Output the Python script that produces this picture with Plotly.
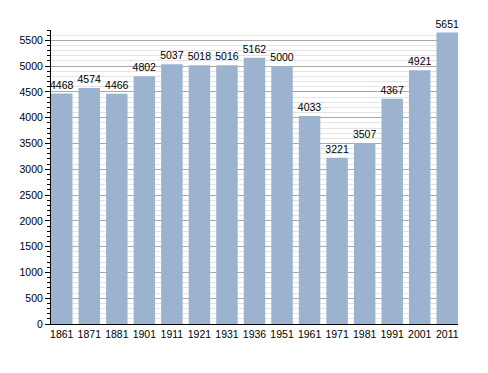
import plotly.graph_objects as go

years = ["1861", "1871", "1881", "1901", "1911", "1921", "1931", "1936", "1951", "1961", "1971", "1981", "1991", "2001", "2011"]
population = [4468, 4574, 4466, 4802, 5037, 5018, 5016, 5162, 5000, 4033, 3221, 3507, 4367, 4921, 5651]
y_ticks = list(range(0, 5501, 500))

gap = 0.22
fig = go.Figure()
fig.add_trace(go.Bar(
    x=years, y=population,
    marker=dict(color="#9bb3cf", line=dict(width=0)),
    text=[str(v) for v in population],
    textposition="outside",
    constraintext="none",
    textfont=dict(family="Liberation Sans, Arial, sans-serif", size=10.5, color="black"),
    cliponaxis=False,
))
fig.update_layout(
    width=480, height=365,
    margin=dict(l=43, r=30, t=22, b=49),
    plot_bgcolor="white", paper_bgcolor="white",
    bargap=gap,
    showlegend=False,
    font=dict(family="Liberation Sans, Arial, sans-serif", size=10.5, color="black"),
    xaxis=dict(
        type="category",
        range=[-0.5 + gap / 2, len(years) - 0.5 - gap / 2],
        showline=True, linecolor="black", linewidth=1,
        ticks="", showgrid=False,
        tickangle=0,
        tickfont=dict(size=10.5),
    ),
    yaxis=dict(
        range=[0, 5700],
        tickvals=y_ticks,
        showline=True, linecolor="black", linewidth=1,
        ticks="outside", ticklen=5, tickcolor="black",
        showgrid=True, gridcolor="#a8a8a8", gridwidth=1,
        zeroline=False,
        minor=dict(dtick=100, ticks="outside", ticklen=3, tickcolor="black",
                   showgrid=True, gridcolor="#e4e4e4", gridwidth=1),
        tickfont=dict(size=10.5),
    ),
)
fig.write_html("out.html")
